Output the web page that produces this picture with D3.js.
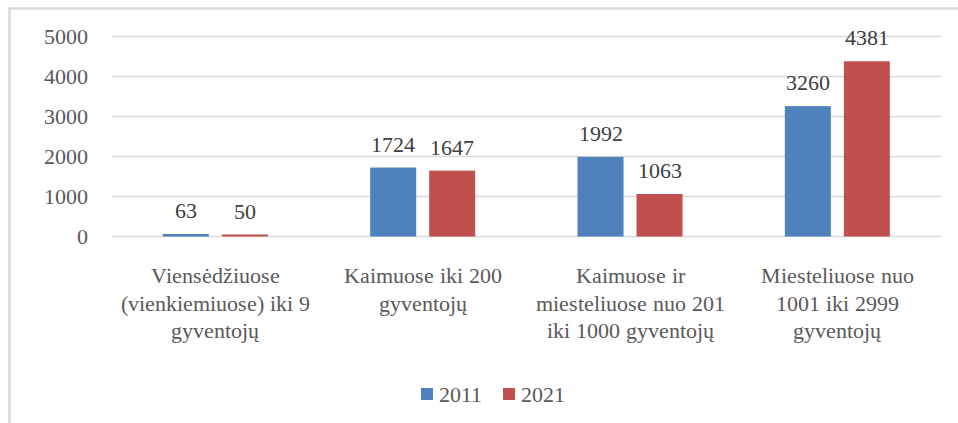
<!DOCTYPE html>
<html>
<head>
<meta charset="utf-8">
<script src="https://cdn.jsdelivr.net/npm/d3@7"></script>
<style>
  @font-face {
    font-family: "ChartSerif";
    src: local("Liberation Serif"), local("LiberationSerif"), local("Times New Roman");
  }
  body { margin: 0; }
</style>
</head>
<body>
<svg id="chart"></svg>
<script>
// category labels, already split into lines as in the picture
const categories = [
  ["Viensėdžiuose", "(vienkiemiuose) iki 9", "gyventojų"],
  ["Kaimuose iki 200", "gyventojų"],
  ["Kaimuose ir", "miesteliuose nuo 201", "iki 1000 gyventojų"],
  ["Miesteliuose nuo", "1001 iki 2999", "gyventojų"]
];
const seriesNames = ["2011", "2021"];
const values2011 = [63, 1724, 1992, 3260];
const values2021 = [50, 1647, 1063, 4381];
const yTicks = [0, 1000, 2000, 3000, 4000, 5000];
const colors = ["#4F81BD", "#C0504D"];

const width = 958;
const height = 423;
const margin = { top: 36.5, right: 17, bottom: 186.5, left: 111.7 };
const font = "ChartSerif";

const svg = d3.select("#chart")
  .attr("width", width)
  .attr("height", height)
  .style("font-family", font);

// outer chart frame (runs off the right and bottom of the picture)
svg.append("rect")
  .attr("x", 9.5).attr("y", 8.5)
  .attr("width", width + 20).attr("height", height + 20)
  .attr("fill", "none")
  .attr("stroke", "#D9D9D9")
  .attr("stroke-width", 2.5);

const keys = categories.map((d, i) => i);
const table = keys.map((i) => ({ key: i, values: [values2011[i], values2021[i]] }));

const x0 = d3.scaleBand()
  .domain(keys)
  .range([margin.left, width - margin.right])
  .padding(0);

const x1 = d3.scaleBand()
  .domain(d3.range(seriesNames.length))
  .range([0, x0.bandwidth()])
  .paddingInner(0.22)
  .paddingOuter(0.867);

const y = d3.scaleLinear()
  .domain([0, 5000])
  .range([height - margin.bottom, margin.top]);

// gridlines
svg.append("g")
  .selectAll("line")
  .data(yTicks)
  .join("line")
  .attr("x1", margin.left)
  .attr("x2", width - margin.right)
  .attr("y1", (d) => y(d))
  .attr("y2", (d) => y(d))
  .attr("stroke", "#D9D9D9")
  .attr("stroke-width", 1.3);

// y labels
svg.append("g")
  .selectAll("text")
  .data(yTicks)
  .join("text")
  .attr("x", margin.left - 24)
  .attr("y", (d) => y(d) + 7)
  .attr("text-anchor", "end")
  .attr("font-size", "22px")
  .style("font-family", font)
  .attr("fill", "#595959")
  .text((d) => d);

// bars
const groups = svg.append("g")
  .selectAll("g")
  .data(table)
  .join("g")
  .attr("transform", (d) => `translate(${x0(d.key)},0)`);

groups.selectAll("rect")
  .data((d) => d.values.map((v, j) => ({ j, v })))
  .join("rect")
  .attr("x", (d) => x1(d.j))
  .attr("y", (d) => y(d.v))
  .attr("width", x1.bandwidth())
  .attr("height", (d) => y(0) - y(d.v))
  .attr("fill", (d) => colors[d.j]);

groups.selectAll("text.value")
  .data((d) => d.values.map((v, j) => ({ j, v })))
  .join("text")
  .attr("class", "value")
  .attr("x", (d) => x1(d.j) + x1.bandwidth() / 2)
  .attr("y", (d) => y(d.v) - 16)
  .attr("text-anchor", "middle")
  .attr("font-size", "22px")
  .style("font-family", font)
  .attr("fill", "#404040")
  .text((d) => d.v);

// category labels
const catLabels = svg.append("g")
  .selectAll("text")
  .data(table)
  .join("text")
  .attr("x", (d) => x0(d.key) + x0.bandwidth() / 2)
  .attr("y", 283)
  .attr("text-anchor", "middle")
  .attr("font-size", "22px")
  .style("font-family", font)
  .attr("fill", "#595959");

catLabels.selectAll("tspan")
  .data((d) => categories[d.key])
  .join("tspan")
  .attr("x", function () { return d3.select(this.parentNode).attr("x"); })
  .attr("dy", (d, i) => (i === 0 ? 0 : 27.7))
  .text((d) => d);

// legend
const legend = svg.append("g").attr("transform", "translate(421,388)");
const legendX = [0, 82];
seriesNames.forEach((name, i) => {
  const g = legend.append("g").attr("transform", `translate(${legendX[i]},0)`);
  g.append("rect")
    .attr("width", 12).attr("height", 12)
    .attr("fill", colors[i]);
  g.append("text")
    .attr("x", 18).attr("y", 14)
    .attr("font-size", "22px")
    .style("font-family", font)
    .attr("fill", "#595959")
    .text(name);
});
</script>
</body>
</html>
